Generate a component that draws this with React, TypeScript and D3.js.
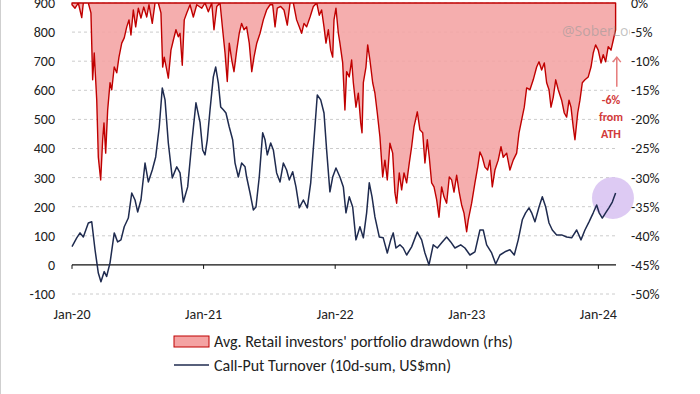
import React from 'react';
import * as d3 from 'd3';

// time is decimal year
const yearTicks = [2020, 2021, 2022, 2023, 2024];
const yearLabels = ['Jan-20', 'Jan-21', 'Jan-22', 'Jan-23', 'Jan-24'];
const leftTicks = [-100, 0, 100, 200, 300, 400, 500, 600, 700, 800, 900];
const rightTicks = [0, -5, -10, -15, -20, -25, -30, -35, -40, -45, -50];

// Call-Put Turnover (10d-sum, US$mn), left axis
const turnover: [number, number][] = [
  [2020.000, 63], [2020.036, 93], [2020.061, 110], [2020.086, 96], [2020.124, 144], [2020.150, 148],
  [2020.175, 52], [2020.200, -28], [2020.220, -58], [2020.245, -23], [2020.263, -40], [2020.289, 7],
  [2020.321, 110], [2020.347, 79], [2020.372, 86], [2020.397, 131], [2020.428, 161], [2020.454, 247],
  [2020.479, 223], [2020.499, 182], [2020.524, 223], [2020.555, 350], [2020.580, 285], [2020.610, 326],
  [2020.636, 371], [2020.663, 474], [2020.686, 608], [2020.707, 567], [2020.732, 419], [2020.762, 299],
  [2020.796, 337], [2020.821, 316], [2020.846, 216], [2020.879, 268], [2020.910, 419], [2020.942, 557],
  [2020.973, 490], [2020.993, 395], [2021.011, 378], [2021.028, 430], [2021.049, 533], [2021.074, 646],
  [2021.092, 680], [2021.112, 625], [2021.130, 543], [2021.150, 533], [2021.170, 522], [2021.195, 474],
  [2021.221, 430], [2021.239, 350], [2021.264, 302], [2021.289, 350], [2021.315, 337], [2021.327, 302],
  [2021.353, 247], [2021.378, 189], [2021.398, 199], [2021.423, 302], [2021.449, 454], [2021.467, 430],
  [2021.484, 378], [2021.510, 419], [2021.530, 395], [2021.555, 316], [2021.581, 285], [2021.606, 350],
  [2021.631, 326], [2021.651, 292], [2021.677, 320], [2021.702, 268], [2021.727, 196], [2021.758, 223],
  [2021.788, 196], [2021.814, 282], [2021.839, 430], [2021.864, 584], [2021.890, 567], [2021.915, 522],
  [2021.935, 395], [2021.960, 251], [2021.981, 302], [2022.006, 333], [2022.036, 302], [2022.062, 268],
  [2022.082, 179], [2022.107, 234], [2022.133, 199], [2022.158, 86], [2022.188, 131], [2022.214, 93],
  [2022.239, 179], [2022.259, 282], [2022.280, 234], [2022.302, 165], [2022.335, 96], [2022.365, 93],
  [2022.396, 41], [2022.422, 86], [2022.441, 110], [2022.462, 58], [2022.492, 69], [2022.517, 58],
  [2022.543, 34], [2022.581, 62], [2022.624, 113], [2022.657, 86], [2022.682, 41], [2022.713, 0],
  [2022.745, 69], [2022.776, 58], [2022.809, 76], [2022.847, 96], [2022.878, 79], [2022.910, 58],
  [2022.954, 69], [2022.986, 58], [2023.024, 34], [2023.062, 45], [2023.100, 120], [2023.125, 120],
  [2023.151, 69], [2023.189, 41], [2023.220, 3], [2023.252, 34], [2023.290, 45], [2023.328, 52],
  [2023.361, 34], [2023.391, 86], [2023.422, 155], [2023.447, 179], [2023.473, 196], [2023.493, 179],
  [2023.518, 148], [2023.549, 199], [2023.574, 234], [2023.600, 199], [2023.625, 144], [2023.650, 120],
  [2023.683, 103], [2023.721, 103], [2023.759, 96], [2023.797, 93], [2023.835, 120], [2023.868, 86],
  [2023.898, 120], [2023.929, 148], [2023.961, 179], [2023.987, 206], [2024.006, 179], [2024.030, 161],
  [2024.055, 179], [2024.080, 196], [2024.106, 216], [2024.131, 247],
];

// Avg. retail investors' portfolio drawdown (%), right axis
const drawdown: [number, number][] = [
  [2020.000, -0.3], [2020.023, -0.9], [2020.048, 0], [2020.074, -2.5], [2020.086, 0], [2020.124, 0],
  [2020.144, -1.7], [2020.157, -13.2], [2020.169, -8.6], [2020.188, -16.7], [2020.200, -26.5],
  [2020.218, -30.4], [2020.233, -23.5], [2020.243, -20.6], [2020.256, -25.8], [2020.271, -18.4],
  [2020.289, -13.7], [2020.302, -14.9], [2020.321, -11], [2020.340, -12], [2020.357, -9.3],
  [2020.378, -6.9], [2020.397, -6], [2020.416, -4.1], [2020.433, -2.9], [2020.448, -5.5],
  [2020.466, -1.2], [2020.484, -4.1], [2020.504, -0.9], [2020.524, -2.6], [2020.545, -0.7],
  [2020.568, -2.4], [2020.585, -0.3], [2020.610, -3.5], [2020.631, 0], [2020.656, 0], [2020.676, -1.7],
  [2020.689, -11], [2020.701, -9.3], [2020.720, -11.5], [2020.732, -12.9], [2020.752, -8.1],
  [2020.770, -6.4], [2020.790, -4.6], [2020.808, -5.8], [2020.821, -5.2], [2020.838, -10.7],
  [2020.853, -2.9], [2020.872, -1.7], [2020.897, -0.3], [2020.922, -2.4], [2020.948, -0.3],
  [2020.986, -0.9], [2021.011, 0], [2021.036, -1.5], [2021.062, 0], [2021.079, -4.6], [2021.100, -0.6],
  [2021.125, 0], [2021.145, -4.6], [2021.163, -8.6], [2021.180, -13.5], [2021.195, -6.9],
  [2021.214, -9.8], [2021.231, -11.8], [2021.252, -8.1], [2021.271, -5.2], [2021.289, -3.5],
  [2021.307, -4.6], [2021.327, -4.1], [2021.347, -6.9], [2021.366, -11.8], [2021.383, -9.3],
  [2021.404, -6.9], [2021.429, -5.2], [2021.454, -2.9], [2021.479, -1.2], [2021.505, -0.3],
  [2021.525, -0.3], [2021.543, -4.1], [2021.560, -0.9], [2021.586, -0.6], [2021.611, -1.2],
  [2021.636, -3.8], [2021.657, 0], [2021.682, 0], [2021.707, -2.9], [2021.727, -4.1], [2021.745, -5.2],
  [2021.763, -3.5], [2021.783, -4.1], [2021.809, -2.4], [2021.834, -0.6], [2021.860, 0],
  [2021.879, -2.1], [2021.897, -1.2], [2021.915, -4.1], [2021.930, -6.9], [2021.948, -4.6],
  [2021.966, -8.1], [2021.981, -9.3], [2021.991, -2.9], [2022.006, -0.9], [2022.024, -5.2],
  [2022.036, -6.9], [2022.057, -10.3], [2022.074, -18.4], [2022.087, -11.8], [2022.107, -12.7],
  [2022.125, -9.8], [2022.138, -13.7], [2022.158, -17.9], [2022.176, -15.5], [2022.194, -20.6],
  [2022.204, -22.3], [2022.214, -13.7], [2022.234, -11], [2022.247, -7.2], [2022.264, -9.8],
  [2022.285, -13.7], [2022.302, -15.5], [2022.320, -18.9], [2022.340, -23], [2022.361, -29.9],
  [2022.378, -27], [2022.396, -30.4], [2022.416, -24.1], [2022.437, -25.8], [2022.454, -32.6],
  [2022.467, -34.4], [2022.487, -29.2], [2022.505, -32.1], [2022.523, -29.2], [2022.543, -30.9],
  [2022.563, -27.5], [2022.581, -24.7], [2022.599, -21.3], [2022.624, -18.7], [2022.644, -21.8],
  [2022.665, -22.3], [2022.682, -27.5], [2022.700, -23.5], [2022.715, -26.5], [2022.733, -30.9],
  [2022.751, -31.6], [2022.771, -33.8], [2022.789, -36.8], [2022.809, -31.6], [2022.827, -33.3],
  [2022.847, -34.4], [2022.867, -29.9], [2022.885, -30.4], [2022.903, -32.5], [2022.923, -29.6],
  [2022.943, -32.6], [2022.961, -34.7], [2022.979, -36.1], [2022.999, -39.3], [2023.011, -37.3],
  [2023.037, -34.4], [2023.062, -30.9], [2023.083, -28.2], [2023.100, -25.6], [2023.118, -26.5],
  [2023.138, -28.2], [2023.159, -28.7], [2023.176, -27], [2023.194, -31.6], [2023.214, -28.7],
  [2023.239, -27], [2023.260, -24.7], [2023.277, -26.5], [2023.303, -25.8], [2023.328, -28.7],
  [2023.353, -27], [2023.379, -25.8], [2023.397, -22.3], [2023.417, -20.1], [2023.437, -17.9],
  [2023.455, -14.6], [2023.480, -14.9], [2023.505, -13.2], [2023.531, -11], [2023.549, -10.1],
  [2023.569, -11.5], [2023.589, -10.3], [2023.607, -13.7], [2023.625, -14.9], [2023.640, -17.9],
  [2023.657, -16.2], [2023.676, -13.2], [2023.695, -14.9], [2023.721, -16.7], [2023.741, -18.9],
  [2023.759, -19.6], [2023.777, -16.7], [2023.792, -17.9], [2023.809, -21.3], [2023.822, -23.5],
  [2023.843, -18.9], [2023.860, -16.7], [2023.878, -13.7], [2023.898, -13.2], [2023.923, -12.7],
  [2023.944, -11], [2023.961, -8.6], [2023.979, -7.2], [2023.999, -8.1], [2024.020, -10.3],
  [2024.037, -8.9], [2024.055, -10.1], [2024.075, -7.5], [2024.096, -8.1], [2024.113, -6.4],
  [2024.131, -4.6],
];

const W = 700;
const H = 394;
const plot = { left: 72, right: 616, top: 3, bottom: 294 };
const font = 'Carlito, Lato, "Liberation Sans", sans-serif';

const x = d3.scaleLinear().domain([2020, 2024.134]).range([plot.left, plot.right]);
const yL = d3.scaleLinear().domain([-100, 900]).range([plot.bottom, plot.top]);
const yR = d3.scaleLinear().domain([-50, 0]).range([plot.bottom, plot.top]);

export default function App() {
  const area = d3.area<[number, number]>()
    .x(d => x(d[0]))
    .y0(yR(0))
    .y1(d => yR(d[1]));
  const line = d3.line<[number, number]>()
    .x(d => x(d[0]))
    .y(d => yL(d[1]));

  const y0 = yL(0);
  const arrowX = x(2024.14);

  return (
    <svg width={W} height={H} style={{ position: 'absolute', left: 0, top: 0, background: '#fff' }}
      fontFamily={font}>
      <defs>
        <clipPath id="wm">
          <rect x={0} y={0} width={630} height={H} />
        </clipPath>
      </defs>
      <line x1={0.5} x2={0.5} y1={0} y2={H} stroke="#cfcfcf" />

      {/* gridlines */}
      {leftTicks.filter(t => t !== 0).map(t => (
        <line key={t} x1={plot.left} x2={plot.right} y1={yL(t)} y2={yL(t)}
          stroke="#cccccc" strokeDasharray="3,3" />
      ))}

      {/* drawdown area */}
      <path d={area(drawdown) || ''} fill="#f4a3a3" fillOpacity={0.88}
        stroke="#c00000" strokeWidth={1.4} strokeLinejoin="round" />

      {/* highlight circle */}
      <circle cx={x(2024.111)} cy={yL(230)} r={21} fill="#d9c4f2" fillOpacity={0.9} />

      {/* zero axis */}
      <line x1={plot.left} x2={plot.right} y1={y0} y2={y0} stroke="#111" strokeWidth={1.2} />
      {yearTicks.map(t => (
        <line key={t} x1={x(t)} x2={x(t)} y1={y0} y2={y0 + 4} stroke="#111" />
      ))}

      <path d={line(turnover) || ''} fill="none" stroke="#1f2b4f" strokeWidth={1.5}
        strokeLinejoin="round" />

      {/* watermark */}
      <text x={562} y={36} fontSize={14} fill="#9a9a9a" fillOpacity={0.6} clipPath="url(#wm)"
        fontFamily='"Open Sans", Lato, sans-serif'>@SoberLook</text>

      {/* left axis */}
      {leftTicks.map(t => (
        <text key={t} x={55} y={yL(t)} dy="0.35em" textAnchor="end" fontSize={14} fill="#222">{t}</text>
      ))}
      {/* right axis */}
      {rightTicks.map(t => (
        <text key={t} x={631} y={yR(t)} dy="0.35em" textAnchor="start" fontSize={14} fill="#222">{t}%</text>
      ))}
      {/* x labels */}
      {yearTicks.map((t, i) => (
        <text key={t} x={x(t)} y={319} textAnchor="middle" fontSize={14} fill="#222">{yearLabels[i]}</text>
      ))}

      {/* annotation */}
      <line x1={arrowX} x2={arrowX} y1={yR(-14.4)} y2={yR(-9.3)} stroke="#e57a7a" strokeWidth={1.5} />
      <path d={`M${arrowX - 4},${yR(-9.3) + 5} L${arrowX},${yR(-9.3)} L${arrowX + 4},${yR(-9.3) + 5}`}
        fill="none" stroke="#e57a7a" strokeWidth={1.5} />
      {['-6%', 'from', 'ATH'].map((s, i) => (
        <text key={s} x={x(2024.096)} y={yR(-16.7 - i * 2.9)} dy="0.35em" textAnchor="middle"
          fontSize={12} fontWeight="bold" fill="#d23a3a">{s}</text>
      ))}

      {/* legend */}
      <rect x={174} y={336} width={35} height={11} fill="#f4a3a3" stroke="#c00000" strokeWidth={1} />
      <text x={214} y={347} fontSize={16} fill="#222">Avg. Retail investors' portfolio drawdown (rhs)</text>
      <line x1={174} x2={209} y1={365} y2={365} stroke="#1f2b4f" strokeWidth={1.5} />
      <text x={214} y={371} fontSize={16} fill="#222">Call-Put Turnover (10d-sum, US$mn)</text>
    </svg>
  );
}
